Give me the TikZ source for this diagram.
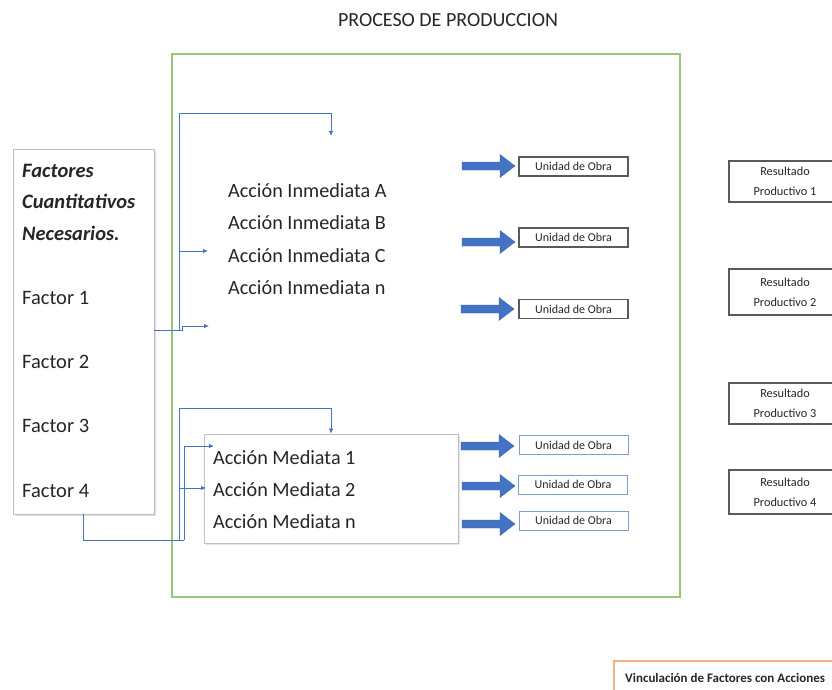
\documentclass[tikz,border=0pt]{standalone}
\usepackage{fontspec}
\setmainfont{Carlito}
\usetikzlibrary{shadows,arrows.meta}
\definecolor{cblue}{RGB}{68,114,196}
\definecolor{cgreen}{RGB}{150,200,120}
\definecolor{cgray}{RGB}{191,191,191}
\definecolor{cdark}{RGB}{90,90,90}
\definecolor{corange}{RGB}{244,177,131}
\begin{document}
\begin{tikzpicture}[x=1pt,y=-1pt,
  conn/.style={draw=cblue,line width=0.8pt},
  conna/.style={conn,-{Latex[length=5pt,width=4.5pt]}},
  bigtxt/.style={anchor=base west,inner sep=0pt,font=\fontsize{20.2}{20}\selectfont,text=black!85},
  facttxt/.style={bigtxt,font=\fontsize{20.5}{20}\selectfont},
  blockarr/.style={fill=cblue,draw=cblue!80!black,line width=0.3pt},
  unidad/.style={draw=cdark,line width=1.1pt,minimum width=109pt,minimum height=19pt,inner sep=0pt,
     font=\fontsize{12}{12}\selectfont,text=black!85},
  unidadb/.style={unidad,draw=cblue!70,line width=0.9pt},
  resbox/.style={draw=cdark,line width=1.2pt,minimum width=112pt,inner sep=0pt,align=center,
     font=\fontsize{12.3}{20}\selectfont,text=black!85}
]
\path[use as bounding box] (0,0) rectangle (832,690);
\clip (0,0) rectangle (832,690);

% title
\node[anchor=base,inner sep=0pt,font=\fontsize{20}{20}\selectfont,text=black!85] (title) at (448,27) {PROCESO DE PRODUCCION};

% green frame
\node[draw=cgreen,line width=1.2pt,minimum width=508pt,minimum height=543pt,inner sep=0pt] (frame) at (426,325.5) {};

% left box
\node[draw=cgray,fill=white,line width=0.8pt,drop shadow={shadow xshift=2pt,shadow yshift=-2pt,opacity=0.25},
      minimum width=141pt,minimum height=365pt,inner sep=0pt] (fac) at (83.5,331.5) {};
\node[facttxt,font=\fontsize{20.5}{20}\selectfont\bfseries\itshape] (f0) at (22,177) {Factores};
\node[facttxt,font=\fontsize{20.5}{20}\selectfont\bfseries\itshape] (f0b) at (22,208) {Cuantitativos};
\node[facttxt,font=\fontsize{20.5}{20}\selectfont\bfseries\itshape] (f0c) at (22,240) {Necesarios.};
\node[facttxt] (f1) at (22,304) {Factor 1};
\node[facttxt] (f2) at (22,368) {Factor 2};
\node[facttxt] (f3) at (22,432) {Factor 3};
\node[facttxt] (f4) at (22,497) {Factor 4};

% Acciones inmediatas
\node[bigtxt] (ia) at (228,197) {Acción Inmediata A};
\node[bigtxt] (ib) at (228,229) {Acción Inmediata B};
\node[bigtxt] (ic) at (228,262) {Acción Inmediata C};
\node[bigtxt] (in) at (228,294) {Acción Inmediata n};

% Acciones mediatas box
\node[draw=cgray,fill=white,line width=0.8pt,drop shadow={shadow xshift=1.5pt,shadow yshift=-1.5pt,opacity=0.2},
      minimum width=254pt,minimum height=109pt,inner sep=0pt] (med) at (331,488.5) {};
\node[bigtxt] (m1) at (213,464) {Acción Mediata 1};
\node[bigtxt] (m2) at (213,496) {Acción Mediata 2};
\node[bigtxt] (mn) at (213,528) {Acción Mediata n};

% connectors (top group)
\coordinate (t1) at (331,136);
\coordinate (t2) at (208,251);
\coordinate (t3) at (209,326);
\draw[conn] (fac.east |- 0,330) -- (179,330);
\draw[conna] (179,330) -- (179,113) -- (331,113) -- (t1);
\draw[conna] (179,251) -- (t2);
\draw[conna] (179,330) -- (182,330) -- (182,326) -- (t3);

% connectors (bottom group)
\coordinate (b1) at (214,446);
\coordinate (b2) at (206,488);
\draw[conn] (fac.south -| 83,0) -- (83,540) -- (184,540);
\draw[conna] (184,540) -- (184,446) -- (b1);
\draw[conna] (179,540) -- (179,408) -- (331,408) -- (med.north -| 331,0);
\draw[conna] (179,488) -- (b2);

% block arrows (tail x, y)
\foreach \x/\y in {462/166, 462/242, 461/309, 461/446, 462/486, 462/524}{
  \path[blockarr] (\x,\y-4) -- (\x+38,\y-4) -- (\x+38,\y-11.5) -- (\x+53,\y)
     -- (\x+38,\y+11.5) -- (\x+38,\y+4) -- (\x,\y+4) -- cycle;
}

% unidad de obra
\node[unidad] (u1) at (573.5,166.5) {Unidad de Obra};
\node[unidad] (u2) at (573.5,237.5) {Unidad de Obra};
\node[unidad] (u3) at (573.5,309) {Unidad de Obra};
\node[unidadb] (u4) at (573.5,445) {Unidad de Obra};
\node[unidadb] (u5) at (573,484.5) {Unidad de Obra};
\node[unidadb] (u6) at (573.5,520.5) {Unidad de Obra};

% resultados
\node[resbox,minimum height=41pt] (r1) at (785,181.5) {Resultado\\Productivo 1};
\node[resbox,minimum height=46pt] (r2) at (785,292) {Resultado\\Productivo 2};
\node[resbox,minimum height=41pt] (r3) at (785,403.5) {Resultado\\Productivo 3};
\node[resbox,minimum height=44pt] (r4) at (785,492) {Resultado\\Productivo 4};

% legend
\node[draw=corange,line width=1.1pt,minimum width=240pt,minimum height=40pt,inner sep=0pt] (leg) at (734,681) {};
\node[anchor=base west,inner sep=0pt,font=\fontsize{13}{14}\selectfont\bfseries,text=black!85] (legt) at (625,682) {Vinculación de Factores con Acciones};
\end{tikzpicture}
\end{document}
